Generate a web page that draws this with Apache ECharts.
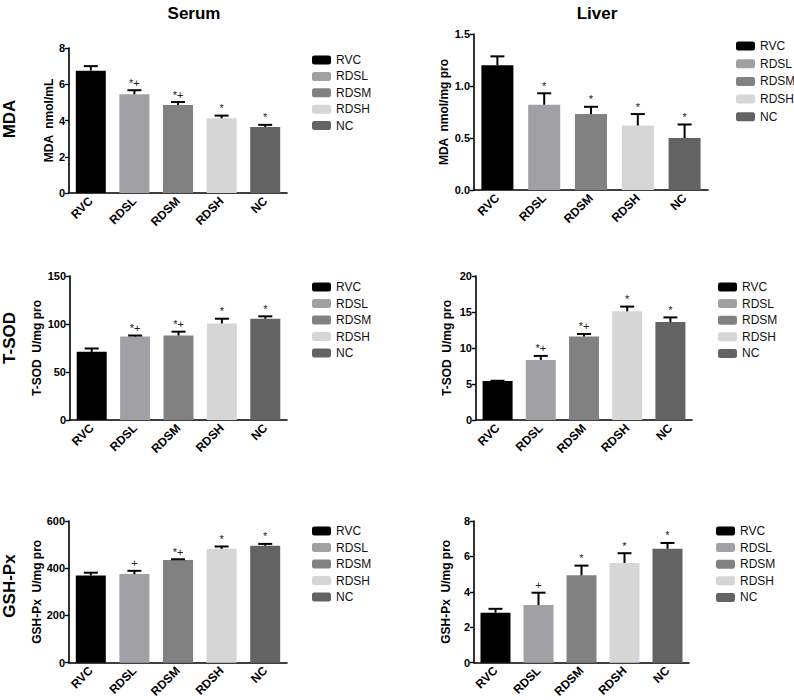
<!DOCTYPE html>
<html>
<head>
<meta charset="utf-8">
<script src="https://cdn.jsdelivr.net/npm/echarts@6/dist/echarts.min.js"></script>
<style>
html,body{margin:0;padding:0;background:#fff;}
#chart{width:794px;height:700px;}
</style>
</head>
<body>
<div id="chart"></div>
<script>
// ---- data ----
const groups = ['RVC', 'RDSL', 'RDSM', 'RDSH', 'NC'];

const serumMDA = [6.75, 5.45, 4.85, 4.12, 3.64];
const serumMDAErr = [0.25, 0.22, 0.17, 0.15, 0.12];
const serumMDASig = ['', '*+', '*+', '*', '*'];

const liverMDA = [1.20, 0.82, 0.73, 0.62, 0.50];
const liverMDAErr = [0.085, 0.11, 0.07, 0.11, 0.13];
const liverMDASig = ['', '*', '*', '*', '*'];

const serumSOD = [71, 87, 88, 100.5, 105.5];
const serumSODErr = [3.5, 1, 4, 5, 2.5];
const serumSODSig = ['', '*+', '*+', '*', '*'];

const liverSOD = [5.4, 8.35, 11.6, 15.1, 13.6];
const liverSODErr = [0.05, 0.55, 0.35, 0.65, 0.65];
const liverSODSig = ['', '*+', '*+', '*', '*'];

const serumGSH = [369, 375, 435, 482, 495];
const serumGSHErr = [12, 14, 3, 10, 8];
const serumGSHSig = ['', '+', '*+', '*', '*'];

const liverGSH = [2.82, 3.25, 4.93, 5.63, 6.43];
const liverGSHErr = [0.22, 0.7, 0.55, 0.55, 0.33];
const liverGSHSig = ['', '+', '*', '*', '*'];

const yNames = ['MDA  nmol/mL', 'MDA  nmol/mg pro', 'T-SOD  U/mg pro', 'T-SOD  U/mg pro', 'GSH-Px  U/mg pro', 'GSH-Px  U/mg pro'];
const yMax = [8, 1.5, 150, 20, 600, 8];
const yStep = [2, 0.5, 50, 5, 200, 2];
const yDecimals = [0, 1, 0, 0, 0, 0];
const columnTitles = ['Serum', 'Liver'];
const rowTitles = ['MDA', 'T-SOD', 'GSH-Px'];

// ---- styles / layout ----
const colors = ['#000000', '#a1a1a5', '#818181', '#d6d6d6', '#636363'];
const FONT = 'Liberation Sans, Arial, Helvetica, sans-serif';
const panels = [
  {mean: serumMDA, err: serumMDAErr, sig: serumMDASig, grid: {left: 69, top: 48, width: 218, height: 145}, bw: 30, gap: 14, leg: {left: 307, top: 49, itemGap: 4.4}},
  {mean: liverMDA, err: liverMDAErr, sig: liverMDASig, grid: {left: 474, top: 34, width: 234, height: 156}, bw: 32, gap: 24, leg: {left: 731, top: 35, itemGap: 5.7}},
  {mean: serumSOD, err: serumSODErr, sig: serumSODSig, grid: {left: 70, top: 276, width: 217, height: 144}, bw: 30, gap: 27, leg: {left: 307, top: 276, itemGap: 4.5}},
  {mean: liverSOD, err: liverSODErr, sig: liverSODSig, grid: {left: 476, top: 276, width: 216, height: 144}, bw: 30, gap: 23, leg: {left: 713, top: 276, itemGap: 4.6}},
  {mean: serumGSH, err: serumGSHErr, sig: serumGSHSig, grid: {left: 69, top: 521, width: 218, height: 143}, bw: 30, gap: 26, leg: {left: 307, top: 520, itemGap: 4.5}},
  {mean: liverGSH, err: liverGSHErr, sig: liverGSHSig, grid: {left: 474, top: 521, width: 215, height: 143}, bw: 30, gap: 22, leg: {left: 711, top: 520, itemGap: 4.6}}
];

const grid = [], xAxis = [], yAxis = [], series = [], legend = [];
panels.forEach((p, k) => {
  grid.push(Object.assign({containLabel: false}, p.grid));
  xAxis.push({
    type: 'category', gridIndex: k, data: groups,
    axisLine: {lineStyle: {color: '#000', width: 1.6}},
    axisTick: {alignWithLabel: true, length: 4, lineStyle: {color: '#000', width: 1.4}},
    axisLabel: {rotate: 45, interval: 0, margin: 6, color: '#000', fontWeight: 'bold', fontSize: 12, fontFamily: FONT}
  });
  yAxis.push({
    type: 'value', gridIndex: k, min: 0, max: yMax[k], interval: yStep[k],
    name: yNames[k], nameLocation: 'middle', nameGap: p.gap,
    nameTextStyle: {color: '#000', fontWeight: 'bold', fontSize: 12, fontFamily: FONT},
    axisLine: {show: true, lineStyle: {color: '#000', width: 1.6}},
    axisTick: {show: true, length: 4, lineStyle: {color: '#000', width: 1.4}},
    splitLine: {show: false},
    axisLabel: {margin: 4, color: '#000', fontWeight: 'bold', fontSize: 11, fontFamily: FONT,
      formatter: v => v.toFixed(yDecimals[k])}
  });
  groups.forEach((g, j) => {
    series.push({
      type: 'bar', name: g, xAxisIndex: k, yAxisIndex: k,
      barWidth: p.bw, barGap: '-100%',
      itemStyle: {color: colors[j]},
      data: p.mean.map((v, i) => (i === j ? v : '-')),
      animation: false, z: 2
    });
  });
  const sig = p.sig;
  series.push({
    type: 'custom', xAxisIndex: k, yAxisIndex: k, z: 5, animation: false,
    silent: true,
    data: p.mean.map((v, i) => [i, v, p.err[i]]),
    renderItem: function (params, api) {
      const x = api.value(0), m = api.value(1), e = api.value(2);
      const p0 = api.coord([x, m]);
      const p1 = api.coord([x, m + e]);
      const hw = 7;
      const children = [
        {type: 'line', shape: {x1: p0[0], y1: p0[1], x2: p1[0], y2: p1[1]}, style: {stroke: '#000', lineWidth: 2}},
        {type: 'line', shape: {x1: p1[0] - hw, y1: p1[1], x2: p1[0] + hw, y2: p1[1]}, style: {stroke: '#000', lineWidth: 2}}
      ];
      const t = sig[params.dataIndex];
      if (t) {
        children.push({type: 'text', style: {text: t, x: p1[0], y: p1[1] - 2, align: 'center', verticalAlign: 'bottom',
          fill: '#222', fontSize: 11, fontFamily: FONT}});
      }
      return {type: 'group', children: children};
    }
  });
  legend.push({
    orient: 'vertical', left: p.leg.left, top: p.leg.top, itemGap: p.leg.itemGap,
    itemWidth: 19, itemHeight: 9, icon: 'roundRect', data: groups.slice(),
    textStyle: {color: '#111', fontSize: 12, fontFamily: FONT}, selectedMode: false
  });
});

const chart = echarts.init(document.getElementById('chart'), null, {renderer: 'svg'});
chart.setOption({
  animation: false,
  backgroundColor: '#fff',
  title: [
    {text: columnTitles[0], left: 189, top: 0, textAlign: 'center', textStyle: {fontSize: 17, fontWeight: 'bold', color: '#000', fontFamily: FONT}},
    {text: columnTitles[1], left: 592, top: 0, textAlign: 'center', textStyle: {fontSize: 17, fontWeight: 'bold', color: '#000', fontFamily: FONT}}
  ],
  graphic: [
    {type: 'text', x: 9, y: 119, rotation: Math.PI / 2, style: {text: rowTitles[0], align: 'center', verticalAlign: 'middle', fontSize: 17, fontWeight: 'bold', fontFamily: FONT, fill: '#000'}},
    {type: 'text', x: 9, y: 338, rotation: Math.PI / 2, style: {text: rowTitles[1], align: 'center', verticalAlign: 'middle', fontSize: 17, fontWeight: 'bold', fontFamily: FONT, fill: '#000'}},
    {type: 'text', x: 9, y: 586, rotation: Math.PI / 2, style: {text: rowTitles[2], align: 'center', verticalAlign: 'middle', fontSize: 17, fontWeight: 'bold', fontFamily: FONT, fill: '#000'}}
  ],
  legend: legend,
  grid: grid,
  xAxis: xAxis,
  yAxis: yAxis,
  series: series
});
</script>
</body>
</html>
